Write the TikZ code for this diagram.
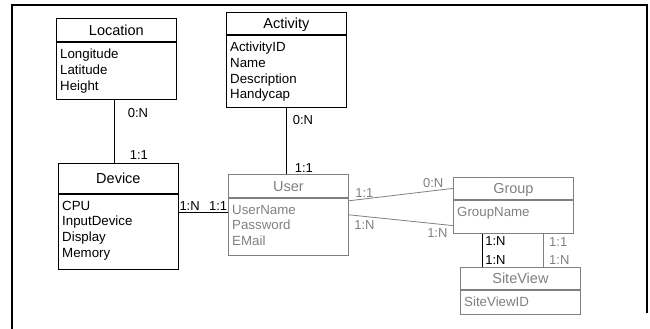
\documentclass[tikz,border=0pt]{standalone}
\usepackage{fontspec}
\setmainfont{Liberation Sans}
\usepackage{xcolor}
\usepackage{tikz}
\usetikzlibrary{
  positioning
}
\definecolor{weakgray}{HTML}{808080}
\newcommand{\headfont}{\fontsize{14.5}{16}\selectfont}
\newcommand{\attrfont}{\fontsize{13.3}{15.7}\selectfont}
\newcommand{\cardfont}{\fontsize{13}{15}\selectfont}

\begin{document}
\begin{tikzpicture}[x=1pt, y=-1pt,
  head/.style={draw, line width=0.8pt, anchor=north west, minimum width=120pt,
               inner sep=0pt, text height=10.4pt, text depth=0pt, font=\headfont},
  body/.style={draw, line width=0.8pt, anchor=north, minimum width=120pt,
               inner sep=0pt},
  attr/.style={anchor=north west, align=left, inner xsep=4pt, inner ysep=7pt,
               font=\attrfont},
  rel/.style={line width=0.8pt},
  card/.style={font=\cardfont, inner sep=0pt},
  faded/.style={color=weakgray},
  frame/.style={line width=2pt},
]
  \useasboundingbox (0,0) rectangle (650,329);
  \draw[frame] (12,329) -- (12,5.5) -- (646.5,5.5) -- (646.5,313);

  % entities
  \node[head, minimum height=23pt] (loc) at (56,18) {Location};
  \node[body, minimum height=57pt] (locB) at (loc.south) {};
  \node[attr] (locA) at (locB.north west) {Longitude\\Latitude\\Height};

  \node[head, minimum height=22pt] (act) at (226,12) {Activity};
  \node[body, minimum height=72pt] (actB) at (act.south) {};
  \node[attr] (actA) at (actB.north west) {ActivityID\\Name\\Description\\Handycap};

  \node[head, minimum height=30pt] (dev) at (58,163) {Device};
  \node[body, minimum height=75pt] (devB) at (dev.south) {};
  \node[attr] (devA) at (devB.north west) {CPU\\InputDevice\\Display\\Memory};

  \node[head, faded, minimum height=23pt] (usr) at (228,174) {User};
  \node[body, faded, minimum height=57pt] (usrB) at (usr.south) {};
  \node[attr, faded] (usrA) at (usrB.north west) {UserName\\Password\\EMail};

  \node[head, faded, minimum height=22pt] (grp) at (453,177) {Group};
  \node[body, faded, minimum height=33pt] (grpB) at (grp.south) {};
  \node[attr, faded] (grpA) at (grpB.north west) {GroupName};

  \node[head, faded, minimum height=22pt] (site) at (460,267) {SiteView};
  \node[body, faded, minimum height=24pt] (siteB) at (site.south) {};
  \node[attr, faded] (siteA) at (siteB.north west) {SiteViewID};

  % relations
  \coordinate (locS) at ([xshift=-2pt]locB.south);
  \draw[rel] (locS) -- (locS |- dev.north)
    node[card, pos=0.215, anchor=west, xshift=13pt] (locN) {0:N}
    node[card, pos=0.877, anchor=west, xshift=15pt] (devO) {1:1};

  \draw[rel] (actB.south) -- (actB.south |- usr.north)
    node[card, pos=0.19, anchor=west, xshift=6pt] (actN) {0:N}
    node[card, pos=0.91, anchor=west, xshift=8pt] (usrO) {1:1};

  \coordinate (devE) at ([yshift=19.5pt]devB.east);
  \draw[rel] (devE) -- (devE -| usrB.west)
    node[card, pos=0.22, above=1.5pt] (devN) {1:N}
    node[card, pos=0.8, above=1.5pt] (usrD) {1:1};

  \draw[rel, faded] ([yshift=-3pt]usrB.north east) -- (grp.west)
    node[card, pos=0.15, above=1pt] (usrG) {1:1}
    node[card, pos=0.81, above=2.5pt] (grpU) {0:N};
  \draw[rel, faded] ([yshift=-17pt]usrB.north east) -- ([yshift=8pt]grpB.south west)
    node[card, pos=0.15, below=4pt] (usrM) {1:N}
    node[card, pos=0.85, below=4pt] (grpM) {1:N};

  \coordinate (grpL) at ([xshift=29pt]grpB.south west);
  \draw[rel] (grpL) -- (grpL |- site.north)
    node[card, pos=0.23, anchor=west, xshift=3pt] (grpS) {1:N}
    node[card, pos=0.8, anchor=west, xshift=3pt] (siteG) {1:N};

  \coordinate (grpR) at ([xshift=-30pt]grpB.south east);
  \draw[rel, faded] (grpR) -- (grpR |- site.north)
    node[card, pos=0.26, anchor=west, xshift=5pt] (grpT) {1:1}
    node[card, pos=0.8, anchor=west, xshift=5pt] (siteT) {1:N};
\end{tikzpicture}
\end{document}
